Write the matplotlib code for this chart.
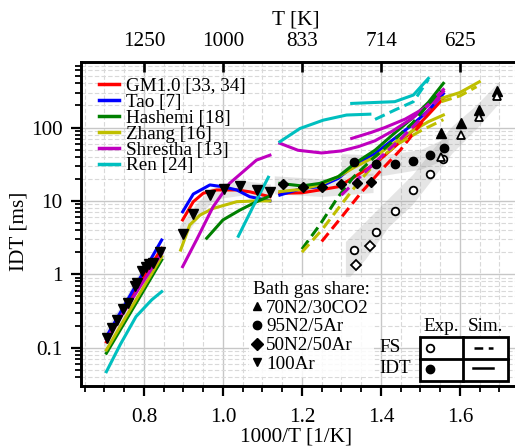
import numpy as np
import matplotlib
matplotlib.use("Agg")
import matplotlib.pyplot as plt
from matplotlib.ticker import MultipleLocator, LogLocator, FixedLocator, FixedFormatter, NullFormatter
from matplotlib.lines import Line2D
from matplotlib.patches import Rectangle

plt.rcParams['font.family'] = ['Liberation Serif', 'DejaVu Serif']

# ---------------- data ----------------
model_names = ["GM1.0 [33, 34]", "Tao [7]", "Hashemi [18]", "Zhang [16]", "Shrestha [13]", "Ren [24]"]
model_colors = ["r", "b", "g", "y", "m", "c"]

# simulated IDT, 100Ar, high temperature
x_hiT = [0.705, 0.75, 0.80, 0.845]
red_hiT = [0.12, 0.32, 0.92, 2.26]
blue_hiT = [0.141, 0.37, 1.10, 2.93]
green_hiT = [0.084, 0.215, 0.61, 1.57]
yellow_hiT = [0.093, 0.24, 0.68, 1.74]
magenta_hiT = [0.13, 0.31, 0.82, 1.93]
x_cyan_hiT = [0.705, 0.74, 0.78, 0.82, 0.845]
cyan_hiT = [0.047, 0.11, 0.265, 0.45, 0.58]

# simulated IDT, 100Ar, intermediate temperature
x_red_mid = [0.898, 0.925, 0.95, 0.984, 1.035, 1.068, 1.119]
red_mid = [5.5, 9.75, 12.7, 14.1, 14.1, 13.3, 11.4]
x_blue_mid = [0.898, 0.925, 0.967, 1.0, 1.035, 1.068, 1.119]
blue_mid = [7.1, 12.4, 16.5, 15.6, 14.1, 11.4, 10.0]
x_yellow_mid = [0.893, 0.916, 0.942, 0.975, 1.035, 1.085, 1.119]
yellow_mid = [2.14, 4.7, 6.4, 7.9, 9.75, 10.0, 10.0]
x_magenta_mid = [0.898, 0.933, 0.975, 1.017, 1.051, 1.085, 1.119]
magenta_mid = [1.27, 2.93, 8.3, 17.4, 25, 36, 42]
x_green_mid = [0.959, 1.0, 1.043, 1.085, 1.115]
green_mid = [3.1, 5.5, 7.5, 9.75, 11.4]
x_cyan_mid = [1.039, 1.077, 1.115]
cyan_mid = [3.3, 8.5, 21]

# simulated IDT, low temperature (solid)
x_low = [1.144, 1.20, 1.245, 1.292, 1.334, 1.385, 1.43, 1.48, 1.52, 1.558]
red_low = [12.7, 12.9, 14.1, 15.6, 21.4, 32, 52, 90, 150, 250]
blue_low = [12.0, 14.8, 15.6, 20.3, 31, 44, 68, 110, 170, 290]
green_low = [17.3, 16.0, 17.3, 21.4, 32.5, 49, 80, 135, 220, 400]
yellow_low = [13.4, 14.4, 16.5, 21.4, 29, 40, 60, 90, 120, 148]
x_magenta_low = [1.144, 1.19, 1.25, 1.30, 1.343, 1.385, 1.43, 1.48, 1.52, 1.558]
magenta_low = [61, 49, 45, 48, 55, 66, 90, 135, 200, 310]
x_magenta_low2 = [1.326, 1.376, 1.41, 1.461, 1.511, 1.558]
magenta_low2 = [71, 86, 100, 130, 185, 330]
x_cyan_low = [1.144, 1.195, 1.254, 1.313, 1.372]
cyan_low = [64, 97, 126, 148, 152]
x_cyan_low2 = [1.326, 1.435, 1.482, 1.52]
cyan_low2 = [213, 225, 277, 467]
x_yellow_co2 = [1.553, 1.60, 1.649]
yellow_co2 = [250, 300, 420]

# simulated FS (dashed)
x_red_fs = [1.25, 1.30, 1.35, 1.40, 1.45, 1.50, 1.53]
red_fs = [2.8, 6.0, 13, 26, 50, 110, 190]
x_green_fs = [1.20, 1.245, 1.29, 1.33, 1.38, 1.43, 1.48, 1.55]
green_fs = [2.2, 4.7, 11, 21, 38, 65, 115, 320]
x_yellow_fs = [1.20, 1.25, 1.30, 1.347, 1.397, 1.448, 1.50, 1.558]
yellow_fs = [2.0, 4.0, 9.0, 19, 38, 62, 90, 128]
x_magenta_fs = [1.30, 1.35, 1.40, 1.45, 1.50, 1.55]
magenta_fs = [12, 22, 40, 70, 130, 260]
x_cyan_fs = [1.385, 1.435, 1.482, 1.52]
cyan_fs = [129, 173, 225, 450]
x_yellow_co2_fs = [1.553, 1.60, 1.642]
yellow_co2_fs = [225, 270, 360]

# experiments
x_ar100 = [0.7056, 0.718, 0.732, 0.748, 0.760, 0.777, 0.783, 0.796, 0.805, 0.813, 0.822, 0.840,
           0.898, 0.925, 0.967, 1.003, 1.043, 1.087, 1.119]
idt_ar100 = [0.134, 0.184, 0.238, 0.333, 0.40, 0.69, 0.75, 1.12, 1.25, 1.37, 1.44, 2.0,
             3.5, 6.7, 12, 14.4, 15.8, 14.2, 13.2]
x_n2ar50 = [1.151, 1.202, 1.25, 1.298, 1.34, 1.374]
idt_n2ar50 = [17.0, 15.6, 15.3, 17.0, 17.7, 18.1]
x_n2ar50_fs = [1.338, 1.372]
fs_n2ar50 = [1.34, 2.43]
x_n2ar5 = [1.332, 1.387, 1.435, 1.48, 1.524, 1.559]
idt_n2ar5 = [33.6, 31.5, 31.5, 35.3, 41.8, 53]
x_n2ar5_fs = [1.332, 1.387, 1.435, 1.48, 1.524, 1.558]
fs_n2ar5 = [2.14, 3.73, 7.3, 14.1, 23.2, 36.9]
x_co2 = [1.553, 1.602, 1.649, 1.693]
idt_co2 = [83, 114, 173, 318]
fs_co2 = [40, 79, 140, 271]

# uncertainty bands
band1_x = [0.70, 0.75, 0.80, 0.85]
band1_lo = [0.10, 0.26, 0.85, 1.6]
band1_hi = [0.17, 0.45, 1.4, 2.6]
band2_x = [0.89, 0.93, 0.97, 1.0, 1.05, 1.12]
band2_lo = [2.6, 5.2, 9.5, 11, 12, 10.5]
band2_hi = [4.6, 8.8, 15, 17.5, 19, 17]
band3_x = [1.13, 1.25, 1.38]
band3_lo = [12.5, 11.5, 13]
band3_hi = [22, 20, 24]
band4_x = [1.30, 1.40, 1.50, 1.57]
band4_lo = [22, 22, 27, 38]
band4_hi = [44, 42, 50, 75]
band5_x = [1.31, 1.36, 1.42, 1.48, 1.53, 1.58, 1.64, 1.70]
band5_lo = [0.8, 1.6, 4.5, 9, 20, 45, 95, 220]
band5_hi = [2.8, 5.2, 11, 23, 50, 105, 200, 430]

T_ticks = [1250, 1000, 833, 714, 625]
y_ticks = [0.1, 1, 10, 100]
y_ticklabels = ["0.1", "1", "10", "100"]
bath_labels = ["70N2/30CO2", "95N2/5Ar", "50N2/50Ar", "100Ar"]

# ---------------- figure ----------------
FS_LEG = 13.8
FS_TICK = 15.3
fig = plt.figure(figsize=(5.15, 4.47), dpi=100)
ax = fig.add_axes([0.1567, 0.1371, 0.8588, 0.7248])
ax.set_yscale('log')
ax.set_xlim(0.64, 1.7595)
ax.set_ylim(0.0303, 788)

LW = 2.2
band_kw = dict(color='0.55', alpha=0.22, lw=0, zorder=1)
for bx, lo, hi in [(band1_x, band1_lo, band1_hi), (band2_x, band2_lo, band2_hi),
                   (band3_x, band3_lo, band3_hi), (band4_x, band4_lo, band4_hi),
                   (band5_x, band5_lo, band5_hi)]:
    ax.fill_between(bx, lo, hi, **band_kw)

r, b, g, y, m, c = model_colors
solid = [
    (x_hiT, red_hiT, r), (x_hiT, blue_hiT, b), (x_hiT, green_hiT, g), (x_hiT, yellow_hiT, y),
    (x_hiT, magenta_hiT, m), (x_cyan_hiT, cyan_hiT, c),
    (x_red_mid, red_mid, r), (x_blue_mid, blue_mid, b), (x_yellow_mid, yellow_mid, y),
    (x_magenta_mid, magenta_mid, m), (x_green_mid, green_mid, g), (x_cyan_mid, cyan_mid, c),
    (x_low, red_low, r), (x_low, blue_low, b), (x_low, yellow_low, y), (x_low, green_low, g),
    (x_magenta_low, magenta_low, m), (x_magenta_low2, magenta_low2, m),
    (x_cyan_low, cyan_low, c), (x_cyan_low2, cyan_low2, c), (x_yellow_co2, yellow_co2, y),
]
for xs, ys, col in solid:
    ax.plot(xs, ys, color=col, lw=LW, ls='-', zorder=3)

dashed = [
    (x_red_fs, red_fs, r), (x_green_fs, green_fs, g), (x_yellow_fs, yellow_fs, y),
    (x_magenta_fs, magenta_fs, m), (x_cyan_fs, cyan_fs, c), (x_yellow_co2_fs, yellow_co2_fs, y),
]
for xs, ys, col in dashed:
    ax.plot(xs, ys, color=col, lw=LW, ls=(0, (3.5, 1.8)), zorder=3)

mk = dict(ls='none', color='k', zorder=5)
ax.plot(x_ar100, idt_ar100, marker='v', ms=6.5, **mk)
ax.plot(x_n2ar50, idt_n2ar50, marker='D', ms=5.5, **mk)
ax.plot(x_n2ar50_fs, fs_n2ar50, marker='D', ms=5.2, mfc='white', mew=1.3, **mk)
ax.plot(x_n2ar5, idt_n2ar5, marker='o', ms=6, **mk)
ax.plot(x_n2ar5_fs, fs_n2ar5, marker='o', ms=5.5, mfc='white', mew=1.3, **mk)
ax.plot(x_co2, idt_co2, marker='^', ms=6.5, **mk)
ax.plot(x_co2, fs_co2, marker='^', ms=6, mfc='white', mew=1.3, **mk)

# axes styling
ax.xaxis.set_major_locator(MultipleLocator(0.2))
ax.xaxis.set_minor_locator(MultipleLocator(0.05))
ax.yaxis.set_major_locator(FixedLocator(y_ticks))
ax.yaxis.set_major_formatter(FixedFormatter(y_ticklabels))
ax.yaxis.set_minor_locator(LogLocator(base=10, subs=np.arange(2, 10)))
ax.yaxis.set_minor_formatter(NullFormatter())
ax.xaxis.set_major_formatter(matplotlib.ticker.FormatStrFormatter('%.1f'))
ax.set_axisbelow(True)
ax.grid(which='major', color='0.78', lw=1.0, ls='-')
ax.grid(which='minor', color='0.85', lw=0.8, ls=(0, (4, 2)))
ax.tick_params(which='major', direction='out', length=7, width=1.6, labelsize=FS_TICK, top=False, right=False)
ax.tick_params(which='minor', direction='out', length=4.5, width=1.3, top=False, right=False)
ax.tick_params(axis='x', which='major', pad=9)
ax.tick_params(axis='y', which='major', pad=6)
for s in ax.spines.values():
    s.set_linewidth(1.9)
ax.set_xlabel('1000/T [1/K]', fontsize=FS_TICK)
ax.set_ylabel('IDT [ms]', fontsize=FS_TICK)
ax.xaxis.set_label_coords(0.4868, -0.128)
ax.yaxis.set_label_coords(-0.119, 0.477)

ax2 = ax.twiny()
ax2.set_xlim(ax.get_xlim())
ax2.set_xticks(1000.0 / np.array(T_ticks))
ax2.set_xticklabels([str(t) for t in T_ticks])
ax2.tick_params(which='major', direction='in', length=7, width=1.9, labelsize=FS_TICK, pad=8)
ax2.tick_params(which='minor', top=False, bottom=False)
for s in ax2.spines.values():
    s.set_linewidth(1.9)
ax2.set_xlabel('T [K]', fontsize=FS_TICK)
ax2.xaxis.set_label_coords(0.4868, 1.115)

# model legend
handles = [Line2D([], [], color=col, lw=2.5) for col in model_colors]
leg1 = ax.legend(handles, model_names, loc='upper left', bbox_to_anchor=(0.0414, 0.951),
                 frameon=False, fontsize=FS_LEG, handlelength=1.05, handletextpad=0.35,
                 labelspacing=-0.08, borderpad=0, borderaxespad=0)
ax.add_artist(leg1)

# bath gas legend
bh = [Line2D([], [], ls='none', marker=mm, color='k', ms=6) for mm in ['^', 'o', 'D', 'v']]
leg2 = ax.legend(bh, bath_labels, title='Bath gas share:', alignment='left', loc='upper left',
                 bbox_to_anchor=(0.3805, 0.336), frameon=True, framealpha=0.85,
                 edgecolor='none', facecolor='white', fancybox=False, fontsize=FS_LEG,
                 title_fontsize=FS_LEG, handlelength=0.4, handletextpad=0.3,
                 labelspacing=0.075, borderpad=0.2, borderaxespad=0)

# FS / IDT key table
tr = ax.transAxes
x0, x1, xm = 0.7671, 0.9661, 0.8643
y0, y1, ym = 0.0145, 0.1512, 0.0824
ax.add_patch(Rectangle((x0, y0), x1 - x0, y1 - y0, transform=tr, fc='white', ec='k', lw=2.0, zorder=6))
ax.plot([xm, xm], [y0, y1], color='k', lw=2.0, transform=tr, zorder=7)
ax.plot([x0, x1], [ym, ym], color='k', lw=2.0, transform=tr, zorder=7)
ax.plot([0.790], [0.1166], marker='o', ms=5.5, mfc='white', mec='k', mew=1.3, transform=tr, zorder=8)
ax.plot([0.790], [0.0531], marker='o', ms=6, color='k', transform=tr, zorder=8)
ax.plot([0.889, 0.932], [0.1166, 0.1166], color='k', lw=1.8, ls=(0, (3.5, 2.2)), transform=tr, zorder=8)
ax.plot([0.887, 0.932], [0.0537, 0.0537], color='k', lw=1.8, transform=tr, zorder=8)
ax.text(0.8147, 0.1821, 'Exp.', transform=tr, ha='center', va='center', fontsize=FS_LEG)
ax.text(0.9141, 0.1821, 'Sim.', transform=tr, ha='center', va='center', fontsize=FS_LEG)
ax.text(0.676, 0.1173, 'FS', transform=tr, ha='left', va='center', fontsize=FS_LEG)
ax.text(0.676, 0.0537, 'IDT', transform=tr, ha='left', va='center', fontsize=FS_LEG)

fig.savefig('out.png', dpi=100)
